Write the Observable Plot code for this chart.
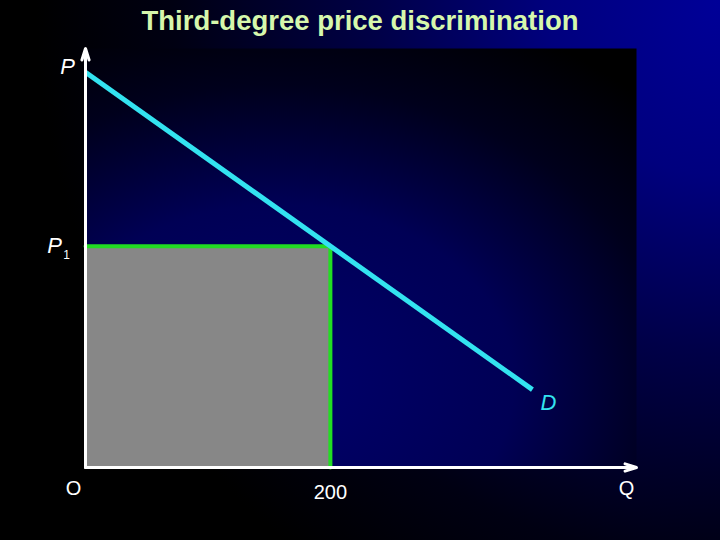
<!DOCTYPE html>
<html>
<head>
<meta charset="utf-8">
<script src="https://cdn.jsdelivr.net/npm/d3@7"></script>
<script src="https://cdn.jsdelivr.net/npm/@observablehq/plot@0.6"></script>
<style>
  html, body { margin: 0; padding: 0; }
  body {
    width: 720px; height: 540px; overflow: hidden;
    background: radial-gradient(ellipse 95% 130% at 100% 0%, #000098 0%, #00007e 25%, #000048 50%, #000012 80%, #000000 100%);
    font-family: "Liberation Sans", Arial, sans-serif;
  }
  #title {
    height: 40px; line-height: 42px; text-align: center;
    color: #d6f7ac; font-weight: bold; font-size: 27.5px;
    padding-left: 0px;
  }
</style>
</head>
<body>
<div id="title">Third-degree price discrimination</div>
<div id="chart"></div>
<script>
// Data
const demandQ = [0, 365];
const demandP = [100, 19.7];
const q1 = 200;
const p1 = 56;
const qMax = 450;
const pMax = 106;
const xTickLabels = ["200"];

const demand = demandQ.map((q, i) => ({q, p: demandP[i]}));
const priceLine = [{q: 0, p: p1}, {q: q1, p: p1}, {q: q1, p: 0}];
const revenue = [{x1: 0, x2: q1, y1: 0, y2: p1}];
const axes = [
  {x1: 0, y1: 0, x2: 0, y2: pMax},
  {x1: 0, y1: 0, x2: qMax, y2: 0}
];

const plot = Plot.plot({
  width: 720,
  height: 500,
  marginLeft: 85,
  marginRight: 84,
  marginTop: 8,
  marginBottom: 73,
  x: {domain: [0, qMax], axis: null},
  y: {domain: [0, pMax], axis: null},
  style: {background: "transparent", fontFamily: "'Liberation Sans', Arial, sans-serif"},
  marks: [
    Plot.frame({fill: "url(#plotbg)", stroke: null}),
    Plot.rect(revenue, {x1: "x1", x2: "x2", y1: "y1", y2: "y2", fill: "#878787"}),
    Plot.line(priceLine, {x: "q", y: "p", stroke: "#22dd22", strokeWidth: 4, strokeLinejoin: "miter"}),
    Plot.line(demand, {x: "q", y: "p", stroke: "#33e3f0", strokeWidth: 5, strokeLinecap: "butt"}),
    Plot.arrow(axes, {x1: "x1", y1: "y1", x2: "x2", y2: "y2", stroke: "white", strokeWidth: 3, headLength: 6, headAngle: 35}),
    // Labels
    Plot.text([{q: 0, p: demandP[0]}], {x: "q", y: "p", text: () => "P", dx: -18, dy: -5, fill: "white", fontSize: 22, fontStyle: "italic"}),
    Plot.text([{q: 0, p: p1}], {x: "q", y: "p", text: () => "P", dx: -31, dy: 0, fill: "white", fontSize: 22, fontStyle: "italic"}),
    Plot.text([{q: 0, p: p1}], {x: "q", y: "p", text: () => "1", dx: -19, dy: 9, fill: "white", fontSize: 12}),
    Plot.text([{q: 0, p: 0}], {x: "q", y: "p", text: () => "O", dx: -12, dy: 21, fill: "white", fontSize: 20}),
    Plot.text([{q: q1, p: 0}], {x: "q", y: "p", text: () => xTickLabels[0], dx: 0, dy: 25, fill: "white", fontSize: 20}),
    Plot.text([{q: qMax, p: 0}], {x: "q", y: "p", text: () => "Q", dx: -10, dy: 21, fill: "white", fontSize: 20}),
    Plot.text([demand[1]], {x: "q", y: "p", text: () => "D", dx: 16, dy: 13, fill: "#33e3f0", fontSize: 22, fontStyle: "italic"})
  ]
});

d3.select(plot).insert("defs", ":first-child").html(`
  <radialGradient id="plotbg" cx="0.35" cy="0.8" r="0.95" fx="0.35" fy="0.8" gradientUnits="objectBoundingBox">
    <stop offset="0" stop-color="#00006c"/>
    <stop offset="0.45" stop-color="#000055"/>
    <stop offset="0.75" stop-color="#00001c"/>
    <stop offset="1" stop-color="#000000"/>
  </radialGradient>
`);
document.getElementById("chart").appendChild(plot);
</script>
</body>
</html>
